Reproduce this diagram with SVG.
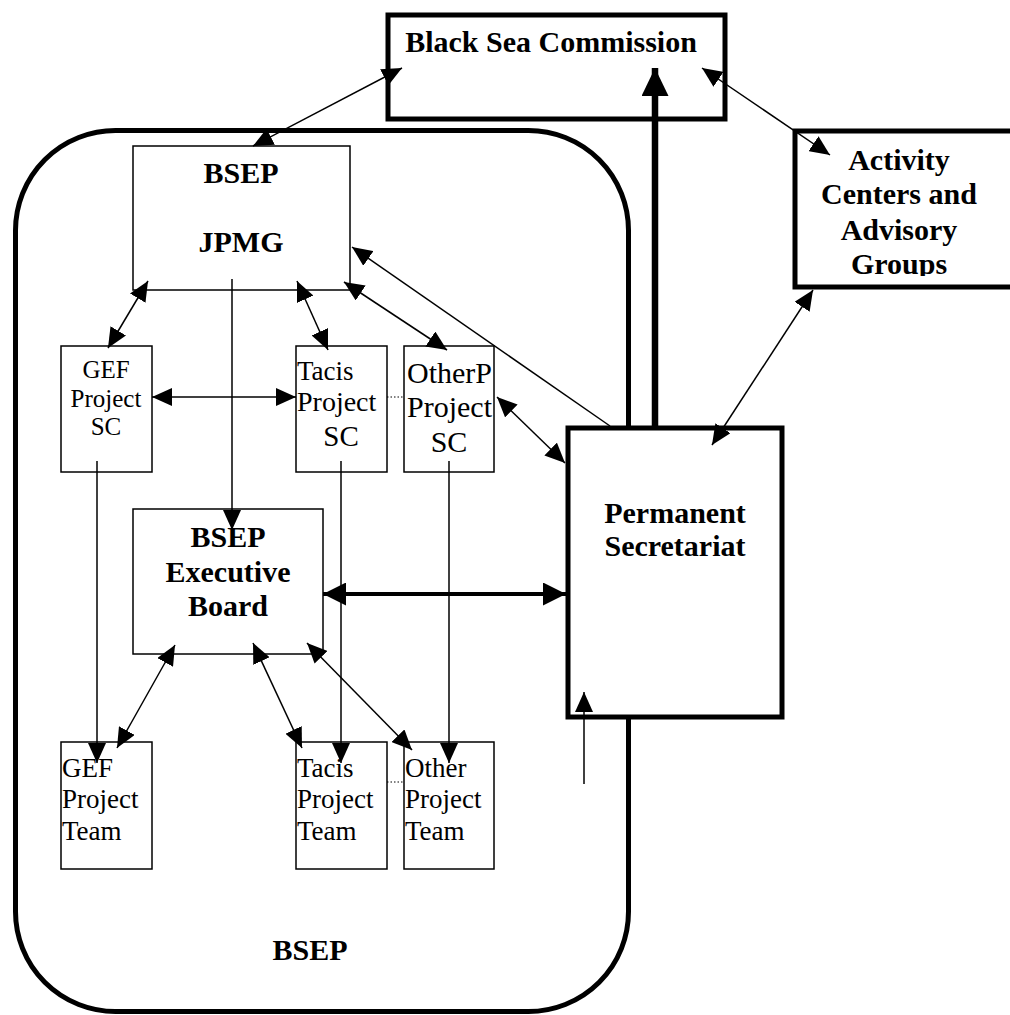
<svg xmlns="http://www.w3.org/2000/svg" width="1010" height="1015" viewBox="0 0 1010 1015">
<style>
text{font-family:"Liberation Serif","Times New Roman",serif;fill:#000}
.b{font-weight:bold;font-size:30px}
.thin{fill:#fff;stroke:#000;stroke-width:1.5}
.thick{fill:#fff;stroke:#000;stroke-width:5}
.c{fill:none;stroke:#000;stroke-width:1.5}
.dot{fill:none;stroke:#000;stroke-width:1;stroke-dasharray:1.5 2}
</style>
<defs>
<marker id="ah" viewBox="0 0 20 18" refX="20" refY="9" markerWidth="20" markerHeight="18" markerUnits="userSpaceOnUse" orient="auto-start-reverse"><path d="M0,0 L20,9 L0,18 z" fill="#000"/></marker>
<marker id="ahh" viewBox="0 0 23 23" refX="23" refY="11.5" markerWidth="23" markerHeight="23" markerUnits="userSpaceOnUse" orient="auto-start-reverse"><path d="M0,0 L23,11.5 L0,23 z" fill="#000"/></marker>
<marker id="ahv" viewBox="0 0 28 27" refX="28" refY="13.5" markerWidth="28" markerHeight="27" markerUnits="userSpaceOnUse" orient="auto-start-reverse"><path d="M0,0 L28,13.5 L0,27 z" fill="#000"/></marker>
<clipPath id="acclip"><rect x="796" y="133" width="214" height="143"/></clipPath>
</defs>
<g id="bsep-container">
<rect x="15.5" y="130.5" width="613" height="881" rx="100" ry="100" fill="none" stroke="#000" stroke-width="5"/>
<text class="b" x="310" y="960" text-anchor="middle">BSEP</text>
</g>
<g id="black-sea-commission">
<rect class="thick" x="388" y="15" width="337" height="104"/>
<text class="b" x="551" y="52" text-anchor="middle">Black Sea Commission</text>
</g>
<g id="activity-centers">
<rect class="thick" x="795" y="131" width="225" height="156"/>
<g clip-path="url(#acclip)">
<text class="b" x="899" y="170" text-anchor="middle">Activity</text>
<text class="b" x="899" y="204" text-anchor="middle">Centers and</text>
<text class="b" x="899" y="240" text-anchor="middle">Advisory</text>
<text class="b" x="899" y="274" text-anchor="middle">Groups</text>
</g>
</g>
<g id="jpmg">
<rect class="thin" x="133" y="146" width="217" height="144"/>
<text class="b" x="241" y="183" text-anchor="middle">BSEP</text>
<text class="b" x="241" y="252" text-anchor="middle">JPMG</text>
</g>
<g id="gef-sc">
<rect class="thin" x="61" y="346" width="91" height="126"/>
<g font-size="25" text-anchor="middle">
<text x="106" y="378">GEF</text>
<text x="106" y="407">Project</text>
<text x="106" y="435">SC</text>
</g>
</g>
<g id="tacis-sc">
<rect class="thin" x="296" y="346" width="91" height="126"/>
<text x="297" y="380" font-size="27">Tacis</text>
<text x="297" y="411" font-size="28">Project</text>
<text x="341" y="446" font-size="29" text-anchor="middle">SC</text>
</g>
<g id="otherp-sc">
<rect class="thin" x="404" y="346" width="90" height="126"/>
<text x="407" y="383" font-size="30">OtherP</text>
<text x="407" y="417" font-size="30">Project</text>
<text x="449" y="452" font-size="30" text-anchor="middle">SC</text>
</g>
<g id="executive-board">
<rect class="thin" x="133" y="509" width="190" height="145"/>
<text class="b" x="228" y="547" text-anchor="middle">BSEP</text>
<text class="b" x="228" y="582" text-anchor="middle">Executive</text>
<text class="b" x="228" y="616" text-anchor="middle">Board</text>
</g>
<g id="permanent-secretariat">
<rect class="thick" x="568" y="428" width="214" height="289"/>
<text class="b" x="675" y="523" text-anchor="middle">Permanent</text>
<text class="b" x="675" y="556" text-anchor="middle">Secretariat</text>
</g>
<g id="gef-team">
<rect class="thin" x="61" y="742" width="91" height="127"/>
<g font-size="27"><text x="62" y="777">GEF</text><text x="62" y="808">Project</text><text x="62" y="840">Team</text></g>
</g>
<g id="tacis-team">
<rect class="thin" x="296" y="742" width="91" height="127"/>
<g font-size="27"><text x="297" y="777">Tacis</text><text x="297" y="808">Project</text><text x="297" y="840">Team</text></g>
</g>
<g id="other-team">
<rect class="thin" x="404" y="742" width="90" height="127"/>
<g font-size="27"><text x="405" y="777">Other</text><text x="405" y="808">Project</text><text x="405" y="840">Team</text></g>
</g>
<g id="connectors">
<line class="c" x1="402" y1="68" x2="253" y2="146" marker-start="url(#ah)" marker-end="url(#ah)"/>
<line class="c" x1="702" y1="68" x2="830" y2="155" marker-start="url(#ah)" marker-end="url(#ah)"/>
<line x1="655" y1="428" x2="655" y2="68" stroke="#000" stroke-width="6.5" marker-end="url(#ahv)"/>
<line class="c" x1="610" y1="426" x2="352" y2="247" marker-end="url(#ah)"/>
<line class="c" x1="712" y1="445" x2="813" y2="290" marker-start="url(#ah)" marker-end="url(#ah)"/>
<line class="c" x1="148" y1="281" x2="108" y2="348" marker-start="url(#ah)" marker-end="url(#ah)"/>
<line class="c" x1="297" y1="281" x2="328" y2="350" marker-start="url(#ah)" marker-end="url(#ah)"/>
<line class="c" x1="344" y1="282" x2="447" y2="350" marker-start="url(#ah)" marker-end="url(#ah)"/>
<line class="c" x1="232" y1="279" x2="232" y2="530" marker-end="url(#ah)"/>
<line class="c" x1="152" y1="397" x2="296" y2="397" marker-start="url(#ah)" marker-end="url(#ah)"/>
<line class="dot" x1="387" y1="397" x2="404" y2="397"/>
<line class="c" x1="497" y1="397" x2="565" y2="463" marker-start="url(#ah)" marker-end="url(#ah)"/>
<line x1="323" y1="594" x2="566" y2="594" stroke="#000" stroke-width="4" marker-start="url(#ahh)" marker-end="url(#ahh)"/>
<line class="c" x1="97" y1="461" x2="97" y2="763" marker-end="url(#ah)"/>
<line class="c" x1="341" y1="461" x2="341" y2="763" marker-end="url(#ah)"/>
<line class="c" x1="449" y1="461" x2="449" y2="763" marker-end="url(#ah)"/>
<line class="c" x1="175" y1="645" x2="117" y2="748" marker-start="url(#ah)" marker-end="url(#ah)"/>
<line class="c" x1="253" y1="643" x2="302" y2="748" marker-start="url(#ah)" marker-end="url(#ah)"/>
<line class="c" x1="307" y1="643" x2="412" y2="750" marker-start="url(#ah)" marker-end="url(#ah)"/>
<line class="dot" x1="387" y1="782" x2="404" y2="782"/>
<line class="c" x1="584" y1="784" x2="584" y2="692" marker-end="url(#ah)"/>
</g>
</svg>
